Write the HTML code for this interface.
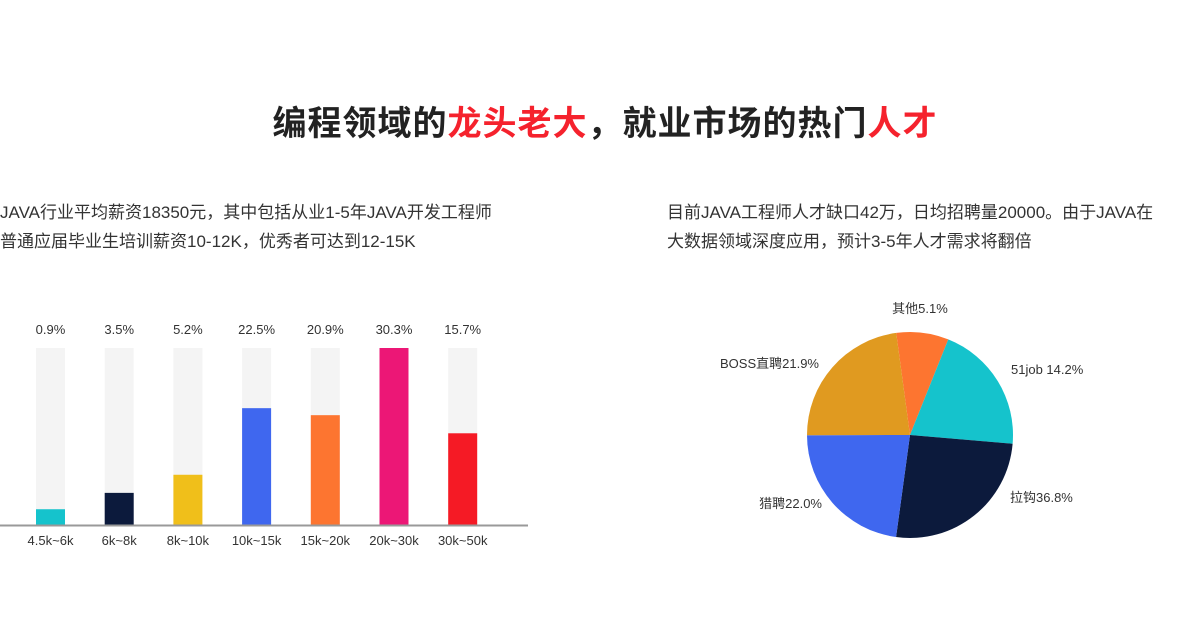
<!DOCTYPE html>
<html><head><meta charset="utf-8"><style>
body{margin:0;width:1200px;height:644px;background:#fff;overflow:hidden;font-family:"Liberation Sans","Noto Sans CJK SC",sans-serif;position:relative}
.t{position:absolute;white-space:nowrap}
h1{position:absolute;top:96px;left:0;width:1210px;text-align:center;margin:0;font-size:34px;font-weight:bold;color:#222;letter-spacing:1px}
h1 span{color:#f5222d}
.p{font-size:17px;color:#333;line-height:29px}
</style></head><body>
<h1>编程领域的<span>龙头老大</span>，就业市场的热门<span>人才</span></h1>
<div class="t p" style="left:0;top:198px">JAVA行业平均薪资18350元，其中包括从业1-5年JAVA开发工程师<br>普通应届毕业生培训薪资10-12K，优秀者可达到12-15K</div>
<div class="t p" style="left:667px;top:198px">目前JAVA工程师人才缺口42万，日均招聘量20000。由于JAVA在<br>大数据领域深度应用，预计3-5年人才需求将翻倍</div>
<svg id="chart" width="1200" height="644" style="position:absolute;left:0;top:0"></svg>
<script>
const barCategories=["4.5k~6k","6k~8k","8k~10k","10k~15k","15k~20k","20k~30k","30k~50k"];
const barLabels=["0.9%","3.5%","5.2%","22.5%","20.9%","30.3%","15.7%"];
const barValues=[2.7,5.5,8.6,20.0,18.8,30.3,15.7];
const barColors=["#15c3cc","#0c1a3c","#f0bf1a","#3f67ef","#fd7530","#ec1776","#f51a25"];
const pieLabels=["其他5.1%","51job 14.2%","拉钩36.8%","猎聘22.0%","BOSS直聘21.9%"];
const pieValues=[8.2,20.3,25.8,22.8,22.9];
const pieColors=["#fd7530","#15c3cc","#0c1a3c","#3f67ef","#e09a20"];
const NS="http://www.w3.org/2000/svg";
const svg=document.getElementById('chart');
function mk(tag,attrs){const e=document.createElementNS(NS,tag);for(const k in attrs)e.setAttribute(k,attrs[k]);svg.appendChild(e);return e;}
const baseY=525,maxH=177,maxV=30.3;
const yScale=v=>v/maxV*maxH;
const xScale=i=>36+i*68.7;
barValues.forEach((v,i)=>{
  const x=xScale(i);
  const bg=mk('rect',{x:x,y:baseY-maxH,width:29,height:maxH,fill:'#f4f4f4'});
  
  
  const r=mk('rect',{x:x,y:baseY-yScale(v),width:29,height:yScale(v),fill:barColors[i]});
  
  
  const t=mk('text',{x:x+14.5,y:334,'text-anchor':'middle','font-size':13,fill:'#333'});
  t.textContent=barLabels[i];
  
  
  const c=mk('text',{x:x+14.5,y:545,'text-anchor':'middle','font-size':13,fill:'#333'});
  c.textContent=barCategories[i];
  
  
});
const ax=mk('line',{x1:0,x2:528,y1:baseY+0.5,y2:baseY+0.5,stroke:'#999','stroke-width':2});


const cx=910,cy=435,R=103;
const total=pieValues.reduce((a,b)=>a+b,0);
let ang=-7.7;
const pt=(a,r)=>[cx+r*Math.sin(a*Math.PI/180),cy-r*Math.cos(a*Math.PI/180)];
const labelPos=[[920,313,'middle'],[1011,374,'start'],[1010,502,'start'],[822,508,'end'],[819,368,'end']];
pieValues.forEach((v,i)=>{
  const sweep=v/total*360;
  const [x1,y1]=pt(ang,R),[x2,y2]=pt(ang+sweep,R);
  const p=mk('path',{d:`M${cx},${cy}L${x1},${y1}A${R},${R} 0 ${sweep>180?1:0} 1 ${x2},${y2}Z`,fill:pieColors[i]});
  
  
  ang+=sweep;
  const lp=labelPos[i];
  const t=mk('text',{x:lp[0],y:lp[1],'text-anchor':lp[2],'font-size':13,fill:'#333'});
  t.textContent=pieLabels[i];
  
  
});
</script>
</body></html>
